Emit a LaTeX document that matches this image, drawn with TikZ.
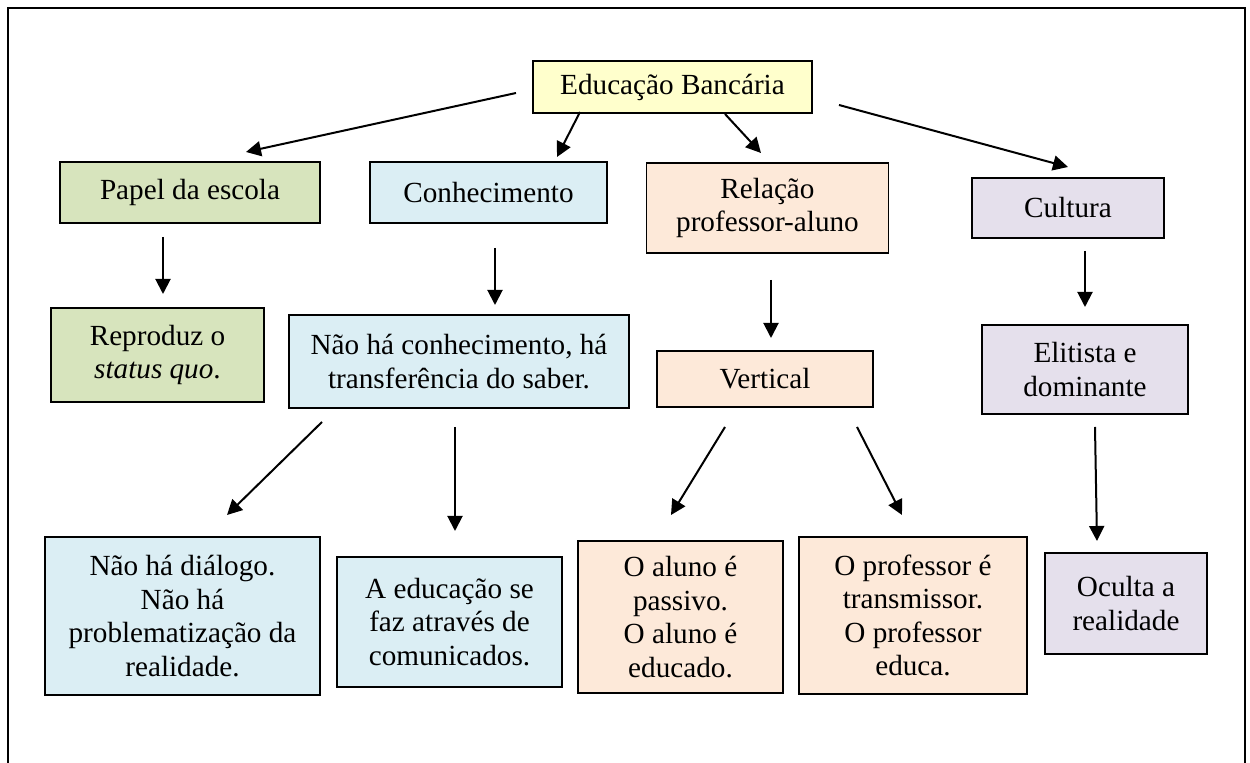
\documentclass[tikz,border=0pt]{standalone}
\usepackage{fontspec}
\setmainfont{Liberation Serif}
\usetikzlibrary{arrows.meta}
\definecolor{cyel}{HTML}{FFFFCC}
\definecolor{cgrn}{HTML}{D7E4BD}
\definecolor{cblu}{HTML}{DBEEF4}
\definecolor{cpch}{HTML}{FDE9D9}
\definecolor{clav}{HTML}{E5E0EC}
\begin{document}
\begin{tikzpicture}[x=0.5pt,y=-0.5pt,
  bx/.style 2 args={draw=black, line width=0.9pt, inner sep=0pt, align=center,
    minimum width=#1*0.5pt, minimum height=#2*0.5pt,
    font=\fontsize{14.6}{16.7}\selectfont},
  arr/.style={line width=1pt, -{Triangle[length=7.5pt,width=7.5pt]}},
  frame/.style={line width=1pt}]
\useasboundingbox (0,0) rectangle (1250,763);
\fill[white] (0,0) rectangle (1250,763);
\draw[frame] (8,775) -- (8,8) -- (1245,8) -- (1245,775);

% nodes
\node[bx={279}{52}, fill=cyel] (edu) at (672.5,87) {Educação Bancária};
\node[bx={260}{61}, fill=cgrn] (papel) at (190,192.5) {Papel da escola};
\node[bx={237}{61}, fill=cblu] (conh) at (488.5,192.5) {Conhecimento};
\node[bx={242}{90}, fill=cpch] (rel) at (767.5,208) {Relação\\professor-aluno};
\node[bx={192}{60}, fill=clav] (cult) at (1068,208) {Cultura};
\node[bx={213}{94}, fill=cgrn] (repr) at (157.5,355) {Reproduz o\\\textit{status quo}.};
\node[bx={340}{93}, fill=cblu] (naoconh) at (459,361.5) {Não há conhecimento, há\\transferência do saber.};
\node[bx={216}{56}, fill=cpch] (vert) at (765,379) {Vertical};
\node[bx={206}{89}, fill=clav] (elit) at (1085,369.5) {Elitista e\\dominante};
\node[bx={275}{158}, fill=cblu] (dial) at (182.5,616) {Não há diálogo.\\Não há\\problematização da\\realidade.};
\node[bx={225}{130}, fill=cblu] (educom) at (449.5,622) {A educação se\\faz através de\\comunicados.};
\node[bx={205}{152}, fill=cpch] (aluno) at (680.5,617) {O aluno é\\passivo.\\O aluno é\\educado.};
\node[bx={228}{157}, fill=cpch] (prof) at (913,615.5) {O professor é\\transmissor.\\O professor\\educa.};
\node[bx={162}{101}, fill=clav] (oculta) at (1126,603.5) {Oculta a\\realidade};

% arrow end points (arrows float between the boxes)
\coordinate (a1s) at (516,93);  \coordinate (a1e) at (246,152);
\coordinate (a2s) at (580,112); \coordinate (a2e) at (557,157);
\coordinate (a3s) at (725,114); \coordinate (a3e) at (761,153);
\coordinate (a4s) at (839,105); \coordinate (a4e) at (1068,167);
\coordinate (a5s) at (163,237); \coordinate (a5e) at (163,294);
\coordinate (a6s) at (495,248); \coordinate (a6e) at (495,305);
\coordinate (a7s) at (771,280); \coordinate (a7e) at (771,338);
\coordinate (a8s) at (1085,251); \coordinate (a8e) at (1085,307);
\coordinate (a9s) at (322,422); \coordinate (a9e) at (227,515);
\coordinate (a10s) at (455,427); \coordinate (a10e) at (455,531);
\coordinate (a11s) at (725,427); \coordinate (a11e) at (671,515);
\coordinate (a12s) at (857,427); \coordinate (a12e) at (902,515);
\coordinate (a13s) at (1095,427); \coordinate (a13e) at (1097,541);

\draw[arr] (a1s) -- (a1e);
\draw[arr] (a2s) -- (a2e);
\draw[arr] (a3s) -- (a3e);
\draw[arr] (a4s) -- (a4e);
\draw[arr] (a5s) -- (a5e);
\draw[arr] (a6s) -- (a6e);
\draw[arr] (a7s) -- (a7e);
\draw[arr] (a8s) -- (a8e);
\draw[arr] (a9s) -- (a9e);
\draw[arr] (a10s) -- (a10e);
\draw[arr] (a11s) -- (a11e);
\draw[arr] (a12s) -- (a12e);
\draw[arr] (a13s) -- (a13e);
\end{tikzpicture}
\end{document}
